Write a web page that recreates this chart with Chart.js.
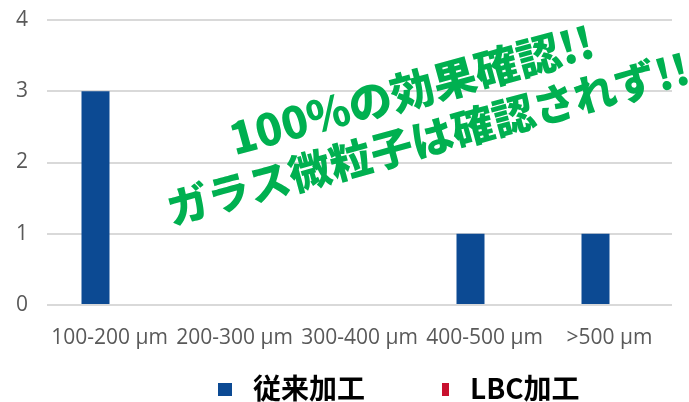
<!DOCTYPE html>
<html>
<head>
<meta charset="utf-8">
<script src="https://cdn.jsdelivr.net/npm/chart.js@4"></script>
<style>
	body { margin: 0; background: #fff; }
	#wrap { position: relative; width: 689px; height: 402px; overflow: hidden; }
	#legend { position: absolute; left: 0; top: 0; font-family: "Noto Sans CJK JP", sans-serif; font-weight: bold; font-size: 28px; color: #000; }
	#legend .box { position: absolute; height: 13px; top: 383px; }
	#legend .txt { position: absolute; top: 371px; line-height: 32px; white-space: nowrap; }
</style>
</head>
<body>
<div id="wrap">
	<canvas id="chart" width="689" height="402"></canvas>
	<div id="legend"></div>
</div>
<script>
// 데이터
const categories = ['100-200 µm', '200-300 µm', '300-400 µm', '400-500 µm', '>500 µm'];
const seriesNames = ['従来加工', 'LBC加工'];
const conventional = [3, 0, 0, 1, 1];
const lbc = [0, 0, 0, 0, 0];
const yTicks = [0, 1, 2, 3, 4];
const noteLines = ['100%の効果確認!!', 'ガラス微粒子は確認されず!!'];

const blue = '#0C4A93';
const red = '#C8102E';

// 기울어진 초록색 문구
const notePlugin = {
	id: 'note',
	afterDraw: function (chart) {
		const ctx = chart.ctx;
		const spots = [
			{ x: 416, y: 106, w: 376 },
			{ x: 432, y: 154, w: 540 }
		];
		ctx.save();
		ctx.fillStyle = '#00B050';
		ctx.textAlign = 'center';
		ctx.textBaseline = 'alphabetic';
		noteLines.forEach(function (line, i) {
			const s = spots[i];
			ctx.font = '900 100px "Noto Sans CJK JP"';
			const size = 100 * s.w / ctx.measureText(line).width;
			ctx.font = '900 ' + size.toFixed(1) + 'px "Noto Sans CJK JP"';
			ctx.save();
			ctx.translate(s.x, s.y);
			ctx.rotate(-15.3 * Math.PI / 180);
			ctx.fillText(line, 0, 0);
			ctx.restore();
		});
		ctx.restore();
	}
};

const ctx = document.getElementById('chart').getContext('2d');
const chart = new Chart(ctx, {
	type: 'bar',
	data: {
		labels: categories,
		datasets: [
			{
				label: seriesNames[0],
				data: conventional,
				backgroundColor: blue,
				borderWidth: 0,
				categoryPercentage: 0.448,
				barPercentage: 1
			},
			{
				label: seriesNames[1],
				data: lbc,
				backgroundColor: red,
				borderWidth: 0,
				categoryPercentage: 0.448,
				barPercentage: 1
			}
		]
	},
	options: {
		responsive: false,
		animation: false,
		layout: { padding: { top: 20, right: 17, bottom: 0, left: 0 } },
		plugins: {
			legend: { display: false },
			tooltip: { enabled: false }
		},
		scales: {
			x: {
				grid: { display: false, drawTicks: false },
				border: { display: false },
				ticks: {
					color: '#595959',
					padding: 20,
					maxRotation: 0,
					autoSkip: false,
					font: { family: 'Open Sans', size: 21 }
				},
				afterFit: function (scale) { scale.height = 97; }
			},
			y: {
				min: yTicks[0],
				max: yTicks[yTicks.length - 1],
				afterBuildTicks: function (scale) {
					scale.ticks = yTicks.map(function (v) { return { value: v }; });
				},
				grid: { color: '#D9D9D9', lineWidth: 2, drawTicks: true, tickLength: 19, tickColor: 'rgba(0,0,0,0)' },
				border: { display: false },
				ticks: {
					color: '#595959',
					padding: 0,
					font: { family: 'Open Sans', size: 21 }
				},
				afterFit: function (scale) { scale.width = 47; }
			}
		}
	},
	plugins: [notePlugin]
});

// 범례
const legend = document.getElementById('legend');
const legendPos = [
	{ box: 218, boxW: 14, txt: 253, color: blue },
	{ box: 442, boxW: 7, txt: 470, color: red }
];
seriesNames.forEach(function (name, i) {
	const p = legendPos[i];
	const box = document.createElement('div');
	box.className = 'box';
	box.style.left = p.box + 'px';
	box.style.width = p.boxW + 'px';
	box.style.background = p.color;
	legend.appendChild(box);
	const txt = document.createElement('div');
	txt.className = 'txt';
	txt.style.left = p.txt + 'px';
	txt.textContent = name;
	legend.appendChild(txt);
});
</script>
</body>
</html>
